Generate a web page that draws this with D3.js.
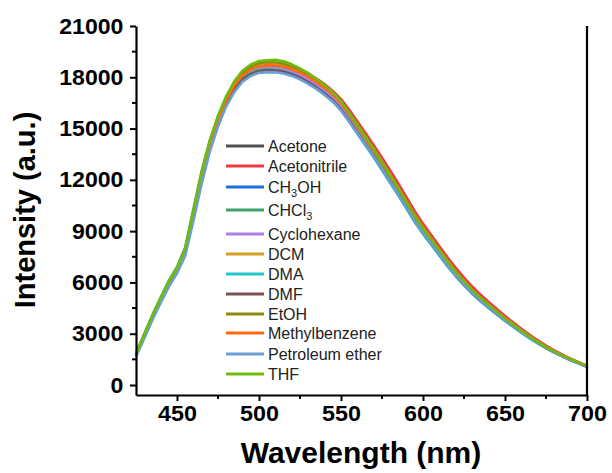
<!DOCTYPE html>
<html>
<head>
<meta charset="utf-8">
<script src="https://cdn.jsdelivr.net/npm/d3@7"></script>
<style>
  html, body { margin: 0; padding: 0; background: #fff; }
  svg { display: block; }
</style>
</head>
<body>
<svg id="chart" width="612" height="473"></svg>
<script>
// Emission wavelengths (nm), 5 nm steps
const wavelengths = d3.range(425, 701, 5);

// Fluorescence intensity (a.u.) for each solvent
const acetone = [1720, 2820, 3920, 4930, 5870, 6660, 7720, 9850, 12000, 13850, 15300, 16450, 17300, 17880, 18180, 18380, 18420, 18400, 18350, 18220, 18020, 17780, 17480, 17120, 16720, 16220, 15580, 14900, 14200, 13500, 12760, 12020, 11260, 10470, 9680, 8980, 8330, 7690, 7050, 6460, 5920, 5430, 4980, 4580, 4190, 3800, 3450, 3110, 2770, 2470, 2180, 1930, 1690, 1470, 1280, 1080];
const acetonitrile = [1740, 2830, 3930, 4940, 5890, 6680, 7730, 9880, 12050, 13900, 15350, 16520, 17400, 18000, 18350, 18560, 18650, 18700, 18700, 18600, 18440, 18210, 17920, 17600, 17200, 16720, 16100, 15420, 14730, 14030, 13300, 12550, 11780, 10980, 10170, 9440, 8770, 8120, 7460, 6850, 6280, 5760, 5290, 4860, 4440, 4030, 3660, 3290, 2930, 2610, 2300, 2030, 1770, 1540, 1340, 1120];
const methanol = [1730, 2830, 3930, 4930, 5880, 6670, 7740, 9880, 12060, 13920, 15370, 16530, 17380, 17970, 18270, 18460, 18500, 18500, 18450, 18300, 18100, 17850, 17550, 17200, 16800, 16300, 15650, 14950, 14250, 13550, 12800, 12050, 11300, 10500, 9700, 9000, 8360, 7720, 7080, 6490, 5950, 5450, 5000, 4600, 4210, 3820, 3470, 3130, 2780, 2480, 2190, 1940, 1700, 1480, 1290, 1090];
const chloroform = [1850, 2980, 4100, 5120, 6100, 6900, 8050, 10300, 12500, 14300, 15700, 16800, 17650, 18250, 18550, 18720, 18780, 18760, 18680, 18520, 18300, 18040, 17730, 17380, 16980, 16480, 15820, 15120, 14420, 13720, 12960, 12210, 11450, 10650, 9850, 9150, 8500, 7850, 7200, 6600, 6050, 5540, 5090, 4680, 4280, 3880, 3530, 3180, 2820, 2520, 2220, 1960, 1720, 1500, 1310, 1110];
const cyclohexane = [1760, 2860, 3960, 4960, 5900, 6700, 7760, 9920, 12120, 13980, 15430, 16580, 17430, 18020, 18320, 18520, 18570, 18560, 18500, 18360, 18150, 17900, 17600, 17250, 16850, 16350, 15700, 15000, 14300, 13600, 12850, 12100, 11350, 10550, 9750, 9050, 8400, 7760, 7110, 6520, 5970, 5470, 5030, 4620, 4230, 3840, 3490, 3140, 2790, 2490, 2200, 1950, 1700, 1480, 1290, 1090];
const dcm = [1770, 2870, 3970, 4970, 5920, 6720, 7800, 9980, 12200, 14080, 15550, 16720, 17600, 18200, 18520, 18720, 18800, 18790, 18720, 18560, 18340, 18080, 17760, 17400, 16990, 16480, 15820, 15110, 14400, 13690, 12930, 12170, 11400, 10600, 9800, 9100, 8450, 7800, 7150, 6550, 6000, 5500, 5050, 4650, 4250, 3860, 3500, 3150, 2800, 2500, 2200, 1950, 1710, 1490, 1300, 1100];
const dma = [1740, 2840, 3940, 4940, 5880, 6680, 7740, 9900, 12100, 13950, 15400, 16550, 17400, 17980, 18270, 18440, 18470, 18440, 18370, 18200, 17970, 17700, 17380, 17010, 16590, 16070, 15410, 14700, 14000, 13300, 12560, 11820, 11080, 10300, 9520, 8840, 8200, 7570, 6940, 6360, 5830, 5340, 4900, 4500, 4120, 3740, 3400, 3060, 2730, 2440, 2150, 1900, 1670, 1450, 1260, 1070];
const dmf = [1720, 2820, 3920, 4920, 5860, 6650, 7710, 9850, 12020, 13880, 15330, 16480, 17330, 17900, 18200, 18380, 18420, 18400, 18330, 18180, 17960, 17700, 17400, 17040, 16630, 16120, 15470, 14770, 14070, 13380, 12640, 11900, 11150, 10370, 9590, 8900, 8260, 7630, 6990, 6410, 5870, 5380, 4940, 4540, 4150, 3770, 3430, 3090, 2750, 2460, 2170, 1920, 1680, 1460, 1270, 1070];
const ethanol = [1790, 2900, 4010, 5020, 5970, 6780, 7870, 10080, 12320, 14200, 15650, 16800, 17680, 18290, 18620, 18820, 18900, 18880, 18800, 18630, 18400, 18130, 17800, 17440, 17030, 16520, 15860, 15150, 14440, 13730, 12970, 12210, 11440, 10640, 9840, 9140, 8480, 7830, 7180, 6580, 6030, 5520, 5070, 4660, 4260, 3870, 3510, 3160, 2810, 2510, 2210, 1960, 1720, 1500, 1310, 1110];
const methylbenzene = [1760, 2860, 3960, 4960, 5910, 6710, 7770, 9950, 12150, 14000, 15480, 16650, 17520, 18120, 18450, 18640, 18700, 18690, 18620, 18470, 18270, 18020, 17720, 17380, 16990, 16500, 15870, 15180, 14480, 13780, 13040, 12290, 11530, 10740, 9940, 9230, 8570, 7920, 7270, 6660, 6100, 5590, 5130, 4720, 4320, 3920, 3560, 3200, 2850, 2540, 2240, 1980, 1730, 1510, 1320, 1110];
const petroleumEther = [1650, 2720, 3800, 4800, 5740, 6530, 7560, 9600, 11750, 13650, 15120, 16300, 17150, 17750, 18080, 18260, 18300, 18290, 18220, 18080, 17880, 17620, 17320, 16970, 16570, 16060, 15420, 14730, 14040, 13350, 12620, 11880, 11140, 10360, 9580, 8900, 8260, 7630, 7000, 6420, 5880, 5390, 4950, 4550, 4160, 3780, 3430, 3090, 2750, 2460, 2170, 1920, 1680, 1460, 1270, 1070];
const thf = [1820, 2940, 4060, 5080, 6040, 6850, 7960, 10200, 12450, 14300, 15750, 16900, 17780, 18400, 18750, 18950, 19000, 19020, 18940, 18760, 18520, 18240, 17900, 17540, 17120, 16600, 15940, 15230, 14520, 13800, 13040, 12270, 11500, 10700, 9900, 9190, 8530, 7880, 7220, 6620, 6060, 5560, 5100, 4690, 4290, 3890, 3530, 3180, 2830, 2520, 2220, 1970, 1720, 1500, 1310, 1110];

const solventNames = ["Acetone", "Acetonitrile", "CH3OH", "CHCl3", "Cyclohexane", "DCM", "DMA", "DMF", "EtOH", "Methylbenzene", "Petroleum ether", "THF"];
const solventValues = [acetone, acetonitrile, methanol, chloroform, cyclohexane, dcm, dma, dmf, ethanol, methylbenzene, petroleumEther, thf];
const solventColors = ["#505050", "#ee3b44", "#1f6fe0", "#3ca46c", "#b07fe6", "#d4a020", "#1fc6ca", "#7a5050", "#8c8c10", "#ff6a10", "#6a9ed4", "#6fbc0e"];

const xTicks = [450, 500, 550, 600, 650, 700];
const xMinorTicks = [475, 525, 575, 625, 675];
const yTicks = [0, 3000, 6000, 9000, 12000, 15000, 18000, 21000];
const yMinorTicks = [1500, 4500, 7500, 10500, 13500, 16500, 19500];

const svg = d3.select("#chart");
const x = d3.scaleLinear().domain([425, 700]).range([136, 587]);
const y = d3.scaleLinear().domain([-585, 21000]).range([395, 26]);

const fontStack = "'Liberation Sans', Arial, sans-serif";

// Spectra
const line = d3.line()
  .x((d, i) => x(wavelengths[i]))
  .y(d => y(d));

svg.append("g")
  .selectAll("path")
  .data(solventValues)
  .join("path")
  .attr("d", d => line(d))
  .attr("fill", "none")
  .attr("stroke", (d, i) => solventColors[i])
  .attr("stroke-width", 2.6)
  .attr("stroke-linejoin", "round");

// Axes
const xAxis = svg.append("g")
  .attr("transform", `translate(0,${y.range()[0]})`)
  .call(d3.axisBottom(x).tickValues(xTicks).tickFormat(d3.format("d"))
    .tickSize(6).tickSizeOuter(0).tickPadding(4));
xAxis.append("g").selectAll("line")
  .data(xMinorTicks).join("line")
  .attr("x1", d => x(d)).attr("x2", d => x(d))
  .attr("y1", 0).attr("y2", 4)
  .attr("stroke", "#000").attr("stroke-width", 2);

const yAxis = svg.append("g")
  .attr("transform", `translate(${x.range()[0]},0)`)
  .call(d3.axisLeft(y).tickValues(yTicks).tickFormat(d3.format("d"))
    .tickSize(6).tickSizeOuter(0).tickPadding(6));
yAxis.append("g").selectAll("line")
  .data(yMinorTicks).join("line")
  .attr("y1", d => y(d)).attr("y2", d => y(d))
  .attr("x1", 0).attr("x2", -4)
  .attr("stroke", "#000").attr("stroke-width", 2);

for (const ax of [xAxis, yAxis]) {
  ax.select(".domain").attr("stroke", "#000").attr("stroke-width", 2.2);
  ax.selectAll(".tick line").attr("stroke", "#000").attr("stroke-width", 2);
  ax.selectAll(".tick text")
    .attr("fill", "#000")
    .style("font-family", fontStack)
    .style("font-weight", "bold")
    .style("font-size", "22px");
}
// Slightly widened tick numerals
xAxis.selectAll(".tick text").attr("transform", "scale(1.06,1)");
yAxis.selectAll(".tick text").attr("transform", "scale(1.05,1)");

// Right frame line
svg.append("line")
  .attr("x1", x(700)).attr("x2", x(700))
  .attr("y1", y(21000)).attr("y2", y.range()[0])
  .attr("stroke", "#000").attr("stroke-width", 2.2);

// Axis titles
svg.append("text")
  .attr("x", 361).attr("y", 463)
  .attr("text-anchor", "middle")
  .style("font-family", fontStack)
  .style("font-weight", "bold")
  .style("font-size", "30px")
  .text("Wavelength (nm)");

svg.append("text")
  .attr("transform", "translate(35,210) rotate(-90)")
  .attr("text-anchor", "middle")
  .style("font-family", fontStack)
  .style("font-weight", "bold")
  .style("font-size", "29px")
  .text("Intensity (a.u.)");

// Legend
const legendRows = [146, 166, 187, 210, 234, 254, 274, 294, 314, 333, 354, 374];
const legend = svg.append("g");
solventNames.forEach((name, i) => {
  const ry = legendRows[i];
  legend.append("line")
    .attr("x1", 226).attr("x2", 264)
    .attr("y1", ry).attr("y2", ry)
    .attr("stroke", solventColors[i]).attr("stroke-width", 2.8);
  const t = legend.append("text")
    .attr("x", 268).attr("y", ry + 5.7)
    .attr("fill", "#222")
    .style("font-family", fontStack)
    .style("font-size", "16px");
  const m = name.match(/^([A-Za-z]+)(\d)(.*)$/);
  if (m) {
    t.append("tspan").text(m[1]);
    t.append("tspan").attr("dy", 4).style("font-size", "11px").text(m[2]);
    if (m[3]) t.append("tspan").attr("dy", -4).text(m[3]);
  } else {
    t.text(name);
  }
});
</script>
</body>
</html>
